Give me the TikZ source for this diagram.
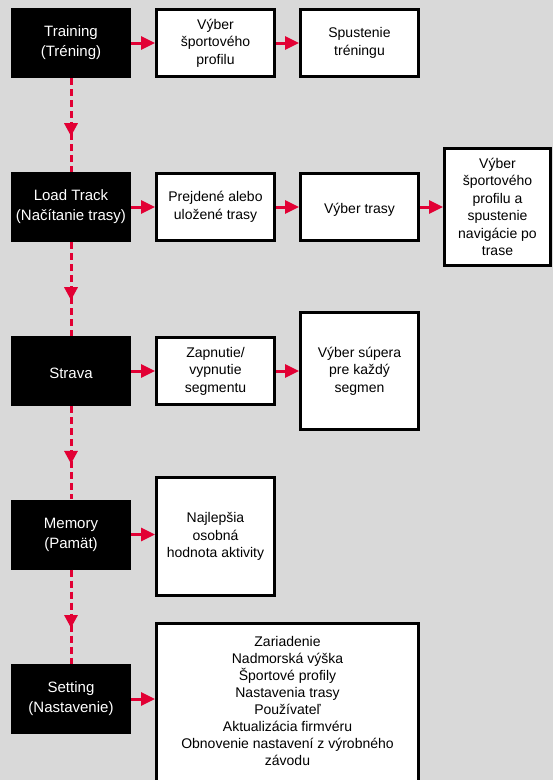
\documentclass[tikz,border=0pt]{standalone}
\usepackage{fontspec}
\setmainfont{Liberation Sans}
\usetikzlibrary{arrows.meta,decorations.markings,calc}
\definecolor{bg}{RGB}{217,217,217}
\definecolor{arrred}{RGB}{226,0,52}
\tikzset{
  blackbox/.style={fill=black, text=white, minimum width=120pt, minimum height=70pt, inner sep=2pt, align=center,
    font=\fontsize{15pt}{20pt}\selectfont, execute at begin node={\rule{0pt}{15pt}}},
  wbox/.style={fill=white, draw=black, line width=3pt, minimum width=118pt, minimum height=67pt, inner sep=2pt, align=center,
    font=\fontsize{14pt}{17.5pt}\selectfont, execute at begin node={\rule{0pt}{15pt}}},
  harrow/.style={draw=arrred, line width=3pt, -{Triangle[width=13pt,length=14pt]}},
  varrow/.style={draw=arrred, line width=3pt, dash pattern=on 7pt off 4pt,
    postaction={decorate},
    decoration={markings, mark=at position 0.62 with {\arrow[arrred]{Triangle[width=13pt,length=13pt]}}}},
}
\begin{document}
\begin{tikzpicture}[x=1pt,y=-1pt]
\useasboundingbox (0,0) rectangle (553,780);
\fill[bg] (0,0) rectangle (553,780);
\clip (0,0) rectangle (553,780);

% left column
\node[blackbox] (train) at (71,43) {Training\\(Tréning)};
\node[blackbox] (load) at (71,207) {Load Track\\(Načítanie trasy)};
\node[blackbox] (strava) at (71,371) {Strava};
\node[blackbox] (memory) at (71,534.5) {Memory\\(Pamät)};
\node[blackbox] (setting) at (71,699) {Setting\\(Nastavenie)};

% row 1
\node[wbox] (profil) at (215.5,43) {Výber\\športového\\profilu};
\node[wbox] (spust) at (359.5,43) {Spustenie\\tréningu};
% row 2
\node[wbox] (prejd) at (215.5,207) {Prejdené alebo\\uložené trasy};
\node[wbox] (vtrasy) at (359.5,207) {Výber trasy};
\node[wbox, minimum width=106pt, minimum height=117pt] (vnav) at (497.5,207) {Výber\\športového\\profilu a\\spustenie\\navigácie po\\trase};
% row 3
\node[wbox] (zapn) at (215.5,371) {Zapnutie/\\vypnutie\\segmentu};
\node[wbox, minimum height=117pt] (super) at (359.5,371) {Výber súpera\\pre každý\\segmen};
% row 4
\node[wbox, minimum height=118pt] (najl) at (215.5,536.5) {Najlepšia\\osobná\\hodnota aktivity};
% row 5
\node[wbox, minimum width=262pt, minimum height=190pt, anchor=north west] (setw) at (155,622) {};
\node[anchor=north, align=center, inner sep=0pt, font=\fontsize{14pt}{17pt}\selectfont] (setlist) at (287.5,636)
  {Zariadenie\\Nadmorská výška\\Športové profily\\Nastavenia trasy\\Používateľ\\Aktualizácia firmvéru\\Obnovenie nastavení z výrobného\\závodu};

% vertical arrows
\draw[varrow] (train.south) -- (load.north);
\draw[varrow] (load.south) -- (strava.north);
\draw[varrow] (strava.south) -- (memory.north);
\draw[varrow] (memory.south) -- (setting.north);

% horizontal arrows
\draw[harrow] (train.east) -- (profil.west);
\draw[harrow] (profil.east) -- (spust.west);
\draw[harrow] (load.east) -- (prejd.west);
\draw[harrow] (prejd.east) -- (vtrasy.west);
\draw[harrow] (vtrasy.east) -- (vnav.west);
\draw[harrow] (strava.east) -- (zapn.west);
\draw[harrow] (zapn.east) -- (super.west);
\draw[harrow] (memory.east) -- (memory.east -| najl.west);
\draw[harrow] (setting.east) -- (setting.east -| setw.west);
\end{tikzpicture}
\end{document}
